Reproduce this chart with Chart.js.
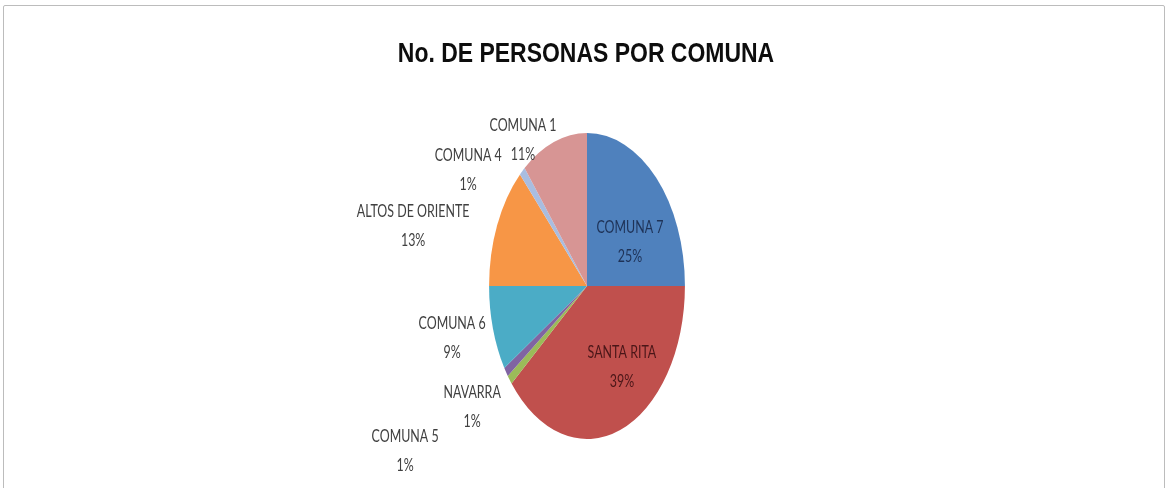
<!DOCTYPE html>
<html>
<head>
<meta charset="utf-8">
<script src="https://cdn.jsdelivr.net/npm/chart.js@4/dist/chart.umd.min.js"></script>
<style>
  html, body { margin: 0; padding: 0; background: #ffffff; }
  #wrap { position: relative; width: 1172px; height: 488px; overflow: hidden; background: #ffffff; }
  #frame { position: absolute; left: 3px; top: 5px; width: 1162px; height: 520px; border: 1px solid #bcbcbc; border-radius: 2px; box-sizing: border-box; }
  #c { position: absolute; left: 0; top: 0; }
</style>
</head>
<body>
<div id="wrap">
  <div id="frame"></div>
  <canvas id="c" width="1172" height="488"></canvas>
</div>
<script>
// ---- data ----
const chartTitle = 'No. DE PERSONAS POR COMUNA';
const categories = ['COMUNA 7', 'SANTA RITA', 'NAVARRA', 'COMUNA 5', 'COMUNA 6', 'ALTOS DE ORIENTE', 'COMUNA 4', 'COMUNA 1'];
const percentages = [25, 39, 1, 1, 9, 13, 1, 11];

// ---- styles ----
const sliceColors = ['#4F81BD', '#C0504D', '#9BBB59', '#8064A2', '#4BACC6', '#F79646', '#A9BDE0', '#D79594'];
const labelColors = ['#1E3257', '#4A1618', '#404040', '#404040', '#404040', '#404040', '#404040', '#404040'];
// label placement: [radial factor, angle tweak in degrees] relative to each slice middle
const labelPlacement = [[0.525, 11.7], [0.638, -14.2], [1.415, 3.8], [2.147, 4.1], [1.419, 2.3], [1.819, -10.9], [1.431, -16.6], [1.156, -14.6]];
const squashX = 0.64;     // horizontal squash of the pie (ellipse look)
const textSquash = 0.69;  // condensed look of the data labels
const labelFont = '18px Lato, "Liberation Sans", sans-serif';
const lineGap = 29;
const titleFont = 'bold 28px "Liberation Sans", Arial, sans-serif';
const titleSquash = 0.82;

const ellipsePlugin = {
  id: 'ellipse',
  beforeDatasetsDraw(chart) {
    const arc = chart.getDatasetMeta(0).data[0];
    const ctx = chart.ctx;
    ctx.save();
    ctx.translate(arc.x, arc.y);
    ctx.scale(squashX, 1);
    ctx.translate(-arc.x, -arc.y);
  },
  afterDatasetsDraw(chart) {
    chart.ctx.restore();
    const ctx = chart.ctx;
    const meta = chart.getDatasetMeta(0);
    const total = percentages.reduce((a, b) => a + b, 0);
    // title
    ctx.save();
    ctx.translate(chart.width / 2, 62);
    ctx.scale(titleSquash, 1);
    ctx.font = titleFont;
    ctx.fillStyle = '#0d0d0d';
    ctx.textAlign = 'center';
    ctx.textBaseline = 'alphabetic';
    ctx.fillText(chartTitle, 0, 0);
    ctx.restore();
    // data labels
    meta.data.forEach((arc, i) => {
      const mid = (arc.startAngle + arc.endAngle) / 2 + labelPlacement[i][1] * Math.PI / 180;
      const k = labelPlacement[i][0];
      const r = arc.outerRadius;
      const x = arc.x + k * r * squashX * Math.cos(mid);
      const y = arc.y + k * r * Math.sin(mid);
      const pct = Math.round(percentages[i] / total * 100) + '%';
      ctx.save();
      ctx.translate(x, y);
      ctx.scale(textSquash, 1);
      ctx.font = labelFont;
      ctx.fillStyle = labelColors[i];
      ctx.textAlign = 'center';
      ctx.textBaseline = 'middle';
      ctx.fillText(categories[i], 0, -lineGap / 2);
      ctx.fillText(pct, 0, lineGap / 2);
      ctx.restore();
    });
  }
};

new Chart(document.getElementById('c'), {
  type: 'pie',
  data: {
    labels: categories,
    datasets: [{
      data: percentages,
      backgroundColor: sliceColors,
      borderWidth: 0
    }]
  },
  options: {
    responsive: false,
    animation: false,
    events: [],
    layout: { padding: { top: 133, bottom: 49, left: 2, right: 0 } },
    plugins: {
      legend: { display: false },
      tooltip: { enabled: false },
      title: { display: false, text: chartTitle }
    }
  },
  plugins: [ellipsePlugin]
});
</script>
</body>
</html>
